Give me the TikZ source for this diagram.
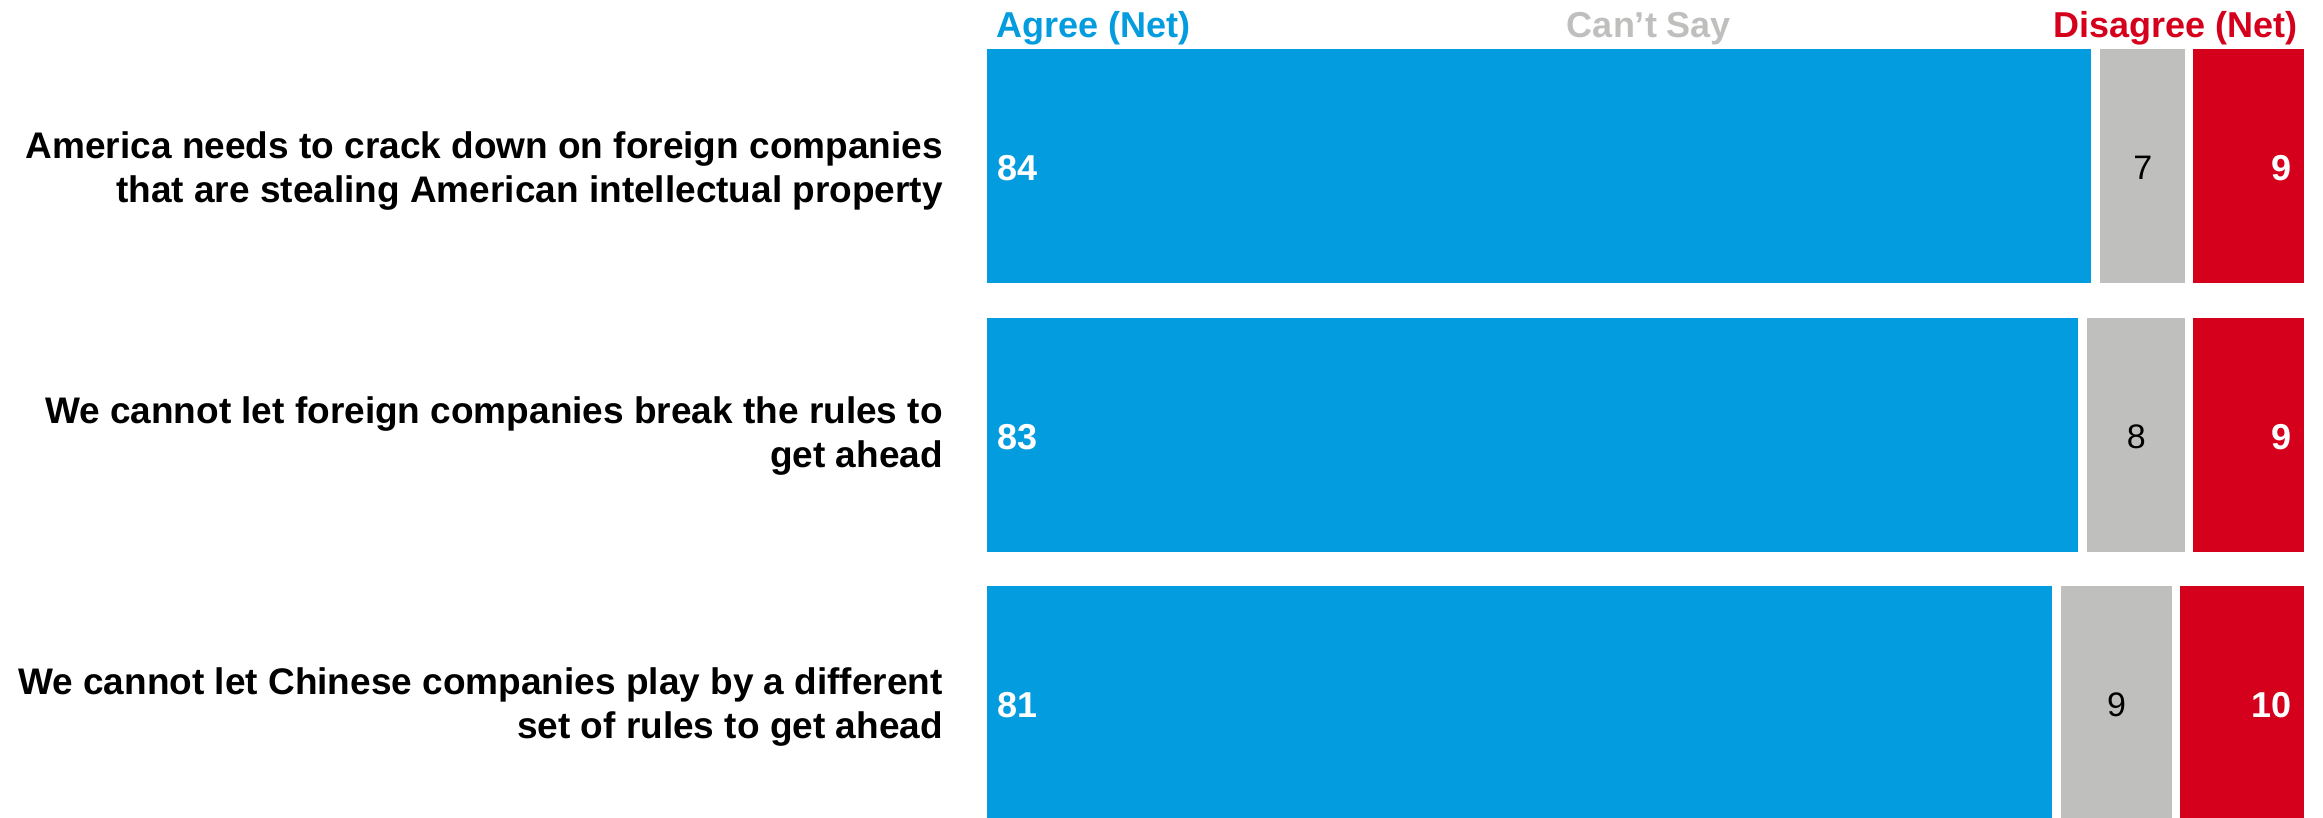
\documentclass[tikz,border=0pt]{standalone}
\usepackage{fontspec}
\setmainfont{Liberation Sans}
\usepackage{xcolor}

\definecolor{agreeblue}{RGB}{3,156,222}
\definecolor{cantgrey}{RGB}{191,191,190}
\definecolor{disred}{RGB}{213,0,28}

\tikzset{
  rowlabel/.style={anchor=east, align=right, inner sep=0pt, font=\fontsize{37}{44}\selectfont\bfseries},
  header/.style={anchor=base, inner sep=0pt, font=\fontsize{36}{40}\selectfont\bfseries},
  valwhite/.style={text=white, inner sep=0pt, font=\fontsize{36}{40}\selectfont\bfseries},
  valblack/.style={text=black, inner sep=0pt, font=\fontsize{34}{40}\selectfont}
}

\begin{document}
\begin{tikzpicture}[x=1pt, y=-1pt]
\useasboundingbox (0,0) rectangle (2323,818);

\node[header, text=agreeblue, anchor=base west] (hagree) at (996,38) {Agree (Net)};
\node[header, text=cantgrey] (hcant) at (1649,38) {Can’t Say};
\node[header, text=disred, anchor=base east] (hdis) at (2298,38) {Disagree (Net)};

\foreach \y/\a/\c/\d/\n in {49/84/7/9/1, 318/83/8/9/2, 586/81/9/10/3}{
  \pgfmathsetmacro\xa{987+\a*13.17}
  \pgfmathsetmacro\xc{\xa+\c*13.17}
  \fill[agreeblue] (987,\y) rectangle (\xa-2,\y+234);
  \fill[cantgrey] (\xa+7,\y) rectangle (\xc,\y+234);
  \fill[disred] (\xc+8,\y) rectangle (2304,\y+234);
  \node[valwhite, anchor=west] (agree\n) at (997,\y+119) {\a};
  \node[valblack] (cant\n) at ({(\xa+7+\xc)/2},\y+119) {\c};
  \node[valwhite, anchor=east] (dis\n) at (2292,\y+119) {\d};
}

\node[rowlabel] (lab1) at (943,171) {America needs to crack down on foreign companies\\that are stealing American intellectual property};
\node[rowlabel] (lab2) at (943,436) {We cannot let foreign companies break the rules to\\get ahead};
\node[rowlabel] (lab3) at (943,707) {We cannot let Chinese companies play by a different\\set of rules to get ahead};
\end{tikzpicture}
\end{document}
